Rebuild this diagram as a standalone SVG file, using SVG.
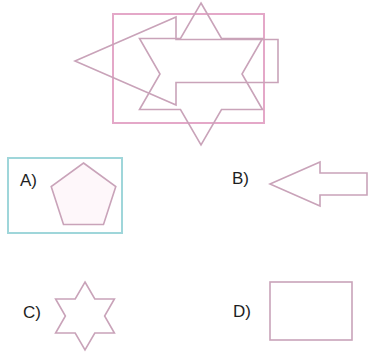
<svg xmlns="http://www.w3.org/2000/svg" width="369" height="358" viewBox="0 0 369 358">
<style>
.shape{fill:none;stroke:#c9a3b9;stroke-width:1.6;stroke-linejoin:miter}
.pink{fill:none;stroke:#e4a8c8;stroke-width:2}
.frame{fill:none;stroke:#9fd6da;stroke-width:2}
.lbl{font-family:"Liberation Sans",Arial,sans-serif;font-size:17px;fill:#1e1e1e}
</style>
<rect width="369" height="358" fill="#ffffff"/>
<g id="figure">
<rect class="pink" x="113" y="14" width="151" height="109"/>
<polygon class="shape" points="201,3 221.5,38.5 262.5,38.5 242,74 262.5,109.5 221.5,109.5 201,145 180.5,109.5 139.5,109.5 160,74 139.5,38.5 180.5,38.5"/>
<polygon class="shape" points="75,61 176,17 176,39.5 278,39.5 278,82.5 176,82.5 176,105"/>
</g>
<g id="optionA">
<rect class="frame" x="8" y="158" width="114" height="75"/>
<text class="lbl" x="20" y="186">A)</text>
<polygon class="shape" style="fill:#fef7fa" points="83.5,163 115.8,186.5 103.5,224.5 63.5,224.5 51.2,186.5"/>
</g>
<g id="optionB">
<text class="lbl" x="232" y="184">B)</text>
<polygon class="shape" points="270,184 320,162 320,173 367,173 367,195 320,195 320,206"/>
</g>
<g id="optionC">
<text class="lbl" x="23" y="318">C)</text>
<polygon class="shape" points="85,282 94.8,299 114.4,299 104.6,316 114.4,333 94.8,333 85,350 75.2,333 55.6,333 65.4,316 55.6,299 75.2,299"/>
</g>
<g id="optionD">
<text class="lbl" x="233" y="317">D)</text>
<rect class="shape" x="270" y="282" width="82" height="58"/>
</g>
<g id="connectors"></g>
</svg>
